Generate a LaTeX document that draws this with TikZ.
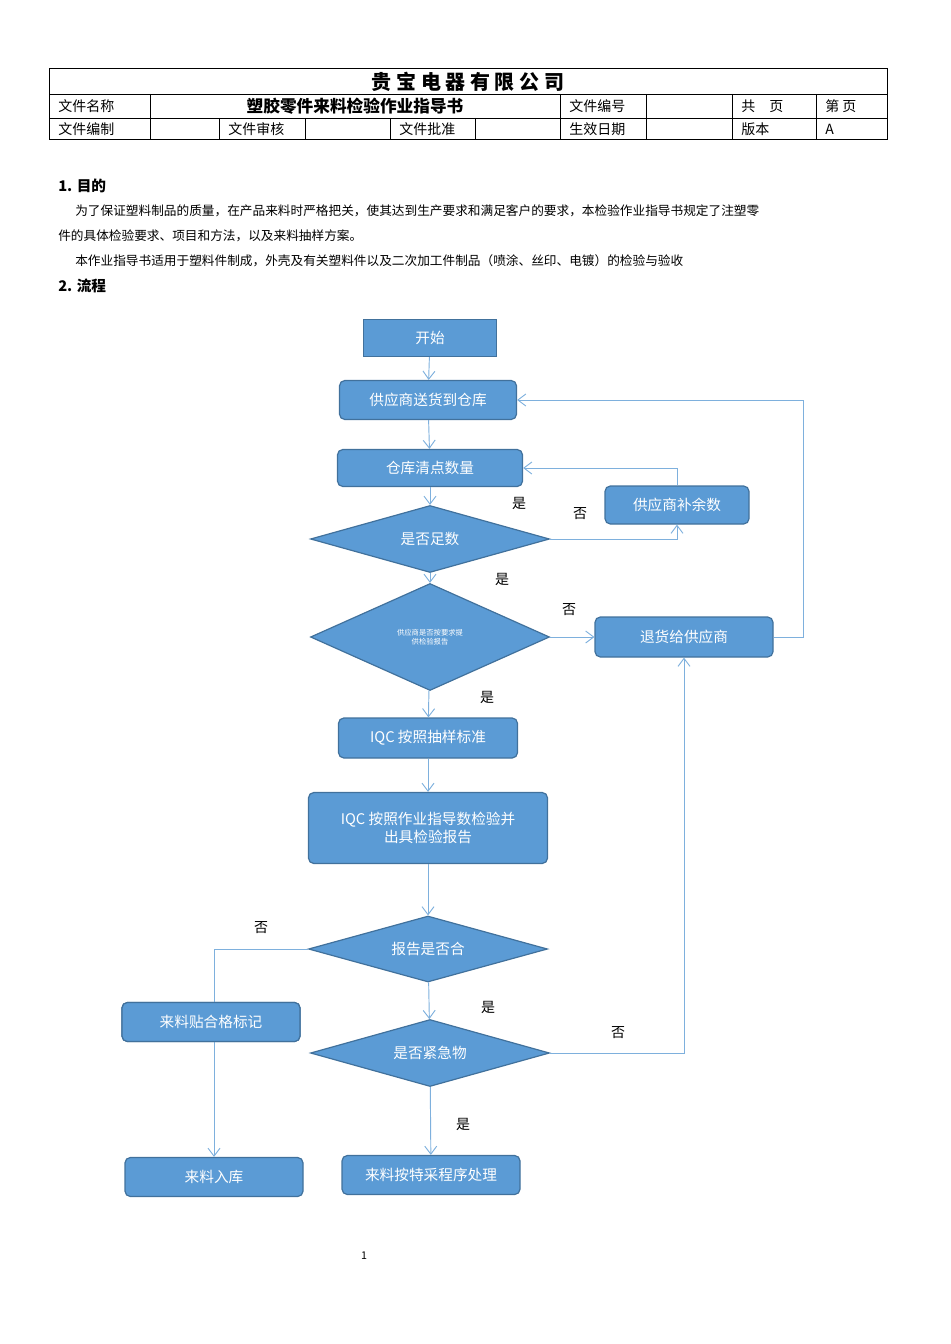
\documentclass[tikz,border=0pt]{standalone}
\usepackage{fontspec}
\setmainfont{Noto Sans CJK SC}
\usetikzlibrary{shapes.geometric,arrows.meta}
\definecolor{bf}{HTML}{5B9BD5}
\definecolor{bd}{HTML}{41719C}
\definecolor{ln}{HTML}{7EB0DD}
\begin{document}
\begin{tikzpicture}[x=0.75pt,y=-0.75pt,
  box/.style={draw=bd,fill=bf,line width=0.9pt,rounded corners=4pt,text=white,font=\fontsize{11}{13}\selectfont,inner sep=0pt,align=center},
  dia/.style={diamond,draw=bd,fill=bf,line width=0.9pt,text=white,font=\fontsize{11}{13}\selectfont,aspect=2.5,inner sep=0pt,align=center},
  arr/.style={draw=ln,line width=0.7pt,-{Straight Barb[length=6pt,width=9pt]}},
  lbl/.style={font=\fontsize{10.5}{12}\selectfont},
  tt/.style={font=\fontsize{10.5}{12}\selectfont,anchor=west,inner sep=0pt},
  body/.style={font=\fontsize{9.5}{11}\selectfont,anchor=west,inner sep=0pt}]
\useasboundingbox (0,0) rectangle (950,1344);
% header table
\draw[line width=0.6pt] (49,68) rectangle (887,139);
\draw[line width=0.6pt] (49,94)--(887,94) (49,118)--(887,118);
\foreach \x in {150,560,646,732,816} \draw[line width=0.6pt] (\x,94)--(\x,139);
\foreach \x in {219,305,390,475} \draw[line width=0.6pt] (\x,118)--(\x,139);
\node[font=\fontsize{15}{17}\selectfont\bfseries] (title) at (468,82) {贵\ 宝\ 电\ 器\ 有\ 限\ 公\ 司};
\node[tt] (c1) at (58,106) {文件名称};
\node[font=\fontsize{12.5}{14}\selectfont\bfseries] (c2) at (355,106) {塑胶零件来料检验作业指导书};
\node[tt] (c3) at (569,106) {文件编号};
\node[tt] (c4) at (741,106) {共\quad 页};
\node[tt] (c5) at (825,106) {第\ 页};
\node[tt] (d1t) at (58,129) {文件编制};
\node[tt] (d2t) at (228,129) {文件审核};
\node[tt] (d3t) at (399,129) {文件批准};
\node[tt] (d4t) at (569,129) {生效日期};
\node[tt] (d5t) at (741,129) {版本};
\node[tt] (d6t) at (825,129) {A};
% body text
\node[body,font=\fontsize{11}{13}\selectfont\bfseries] (h1) at (58,186) {1. 目的};
\node[body] (p1) at (75,211) {为了保证塑料制品的质量，在产品来料时严格把关，使其达到生产要求和满足客户的要求，本检验作业指导书规定了注塑零};
\node[body] (p2) at (58,236) {件的具体检验要求、项目和方法，以及来料抽样方案。};
\node[body] (p3) at (75,261) {本作业指导书适用于塑料件制成，外壳及有关塑料件以及二次加工件制品（喷涂、丝印、电镀）的检验与验收};
\node[body,font=\fontsize{11}{13}\selectfont\bfseries] (h2) at (58,286) {2. 流程};
% flowchart nodes
\node[box,rounded corners=0pt,minimum width=133*0.75pt,minimum height=37*0.75pt] (start) at (430,338) {开始};
\node[box,minimum width=177*0.75pt,minimum height=39*0.75pt] (deliver) at (428,400) {供应商送货到仓库};
\node[box,minimum width=185*0.75pt,minimum height=37*0.75pt] (count) at (430,468) {仓库清点数量};
\node[box,minimum width=144*0.75pt,minimum height=38*0.75pt] (supp) at (677,505) {供应商补余数};
\node[dia,minimum width=239*0.75pt,minimum height=67*0.75pt,aspect=3.5] (q1) at (430,539) {是否足数};
\node[dia,minimum width=239*0.75pt,minimum height=107*0.75pt,aspect=2.2,font=\fontsize{5.5}{6.5}\selectfont] (q2) at (430,637) {供应商是否按要求提\\供检验报告};
\node[box,minimum width=178*0.75pt,minimum height=40*0.75pt] (ret) at (684,637) {退货给供应商};
\node[box,minimum width=179*0.75pt,minimum height=40*0.75pt] (iqc1) at (428,738) {IQC 按照抽样标准};
\node[box,minimum width=239*0.75pt,minimum height=71*0.75pt] (iqc2) at (428,828) {IQC 按照作业指导数检验并\\出具检验报告};
\node[dia,minimum width=239*0.75pt,minimum height=66*0.75pt,aspect=3.6] (q3) at (428,949) {报告是否合};
\node[box,minimum width=178*0.75pt,minimum height=39*0.75pt] (mark) at (211,1022) {来料贴合格标记};
\node[dia,minimum width=239*0.75pt,minimum height=67*0.75pt,aspect=3.5] (q4) at (430,1053) {是否紧急物};
\node[box,minimum width=178*0.75pt,minimum height=39*0.75pt] (store) at (214,1177) {来料入库};
\node[box,minimum width=178*0.75pt,minimum height=39*0.75pt] (spec) at (431,1175) {来料按特采程序处理};
\coordinate (k1) at (677,539);
\coordinate (k2) at (677,468);
\coordinate (k3) at (803,637);
\coordinate (k4) at (803,400);
\coordinate (k5) at (214,949);
\coordinate (k6) at (684,1053);
% connectors
\draw[arr] (start)--(deliver);
\draw[arr] (deliver)--(count);
\draw[arr] (count)--(q1);
\draw[arr] (q1.east)--(k1)--(supp.south);
\draw[arr] (supp.north)--(k2)--(count.east);
\draw[arr] (q1)--(q2);
\draw[arr] (q2.east)--(ret.west);
\draw[arr] (ret.east)--(k3)--(k4)--(deliver.east);
\draw[arr] (q2)--(iqc1);
\draw[arr] (iqc1)--(iqc2);
\draw[arr] (iqc2)--(q3);
\draw[arr] (q3.west)--(k5)--(store.north);
\node[box,minimum width=178*0.75pt,minimum height=39*0.75pt] at (mark) {来料贴合格标记};
\draw[arr] (q3)--(q4);
\draw[arr] (q4.east)--(k6)--(ret.south);
\draw[arr] (q4)--(spec);
% labels
\node[lbl] (l1) at (519,503) {是};
\node[lbl] (l2) at (580,514) {否};
\node[lbl] (l3) at (502,579) {是};
\node[lbl] (l4) at (569,610) {否};
\node[lbl] (l5) at (487,697) {是};
\node[lbl] (l6) at (261,928) {否};
\node[lbl] (l7) at (488,1007) {是};
\node[lbl] (l8) at (618,1033) {否};
\node[lbl] (l9) at (463,1124) {是};
\node[font=\fontsize{8}{9}\selectfont] (pg) at (364,1256) {1};
\end{tikzpicture}
\end{document}
